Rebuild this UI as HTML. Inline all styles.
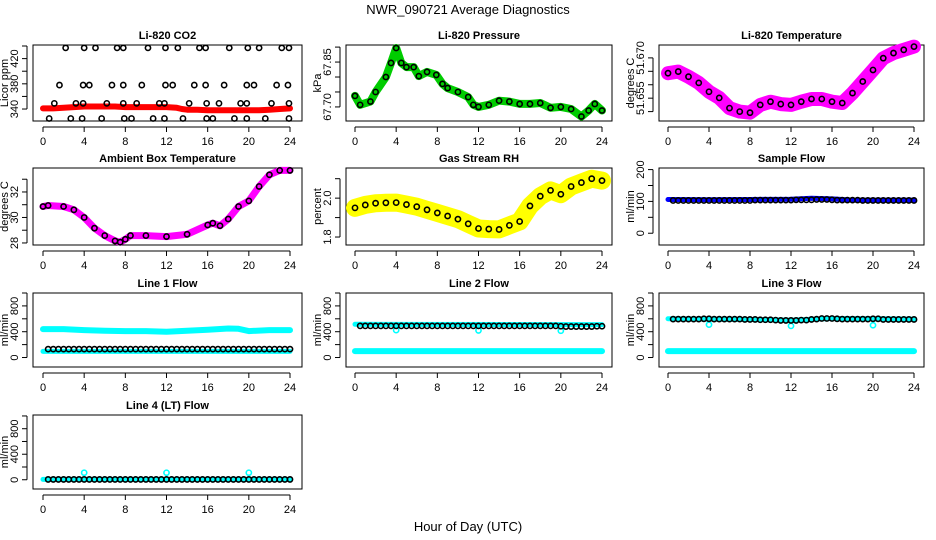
<!DOCTYPE html>
<html><head><meta charset="utf-8">
<style>
html,body{margin:0;padding:0;background:#fff;}
svg{display:block;font-family:"Liberation Sans",sans-serif;}
</style></head>
<body>
<svg id="chart" width="936" height="540" viewBox="0 0 936 540" xmlns="http://www.w3.org/2000/svg">
<text x="468" y="14" text-anchor="middle" font-size="13">NWR_090721  Average Diagnostics</text>
<text x="468" y="531" text-anchor="middle" font-size="13">Hour of Day (UTC)</text>
</svg>
<script>
const NS="http://www.w3.org/2000/svg";
const svg=document.getElementById('chart');
const xTicks=[0,4,8,12,16,20,24];
const halfHours=[0.5,1,1.5,2,2.5,3,3.5,4,4.5,5,5.5,6,6.5,7,7.5,8,8.5,9,9.5,10,10.5,11,11.5,12,12.5,13,13.5,14,14.5,15,15.5,16,16.5,17,17.5,18,18.5,19,19.5,20,20.5,21,21.5,22,22.5,23,23.5,24];

// CO2
const co2BandH=[0,1,2,3,4,5,6,7,8,9,10,11,12,13,13.5,14,15,16,17,18,19,20,21,22,23,24];
const co2BandV=[341,341,342,343,344,344,344,344,343,343,343,343,343,342,340,339,339,338,338,338,338,338,338,339,340,341];
const co2PtsH=[2.2,4.0,5.1,7.2,7.8,10.2,11.9,13.1,15.2,15.8,18.1,19.9,21.0,23.2,23.9,
1.6,3.9,4.5,6.7,7.8,9.6,11.9,12.6,14.7,15.8,17.6,19.8,20.5,22.7,23.8,
1.1,3.2,3.9,6.2,7.8,9.1,11.3,11.8,14.2,15.9,17.1,19.2,19.8,22.2,23.9,
0.6,2.7,3.8,5.7,7.9,8.6,10.7,11.8,13.6,15.9,16.5,18.6,19.8,21.6,23.9];
const co2PtsV=[437,437,437,437,437,437,437,437,437,437,437,437,437,437,437,
378,378,378,378,378,378,378,378,378,378,378,378,378,378,378,
349,349,349,349,349,349,349,349,349,349,349,349,349,349,349,
325,325,325,325,325,325,325,325,325,325,325,325,325,325,325];
// Pressure
const presH=[0,0.5,1.5,2,3,3.5,4,4.5,5,5.7,6.2,7,7.9,8.5,9,10,11,11.5,12,13,14,15,16,17,18,19,20,21,22,22.7,23.3,24];
const presV=[67.737,67.707,67.718,67.75,67.80,67.847,67.897,67.847,67.833,67.833,67.803,67.817,67.807,67.777,67.763,67.75,67.733,67.707,67.70,67.707,67.721,67.718,67.71,67.71,67.713,67.697,67.70,67.693,67.668,67.688,67.71,67.688];
// Li-820 temperature
const tempH=[0,1,2,3,4,5,6,7,8,9,10,11,12,13,14,15,16,17,18,19,20,21,22,23,24];
const tempV=[51.6643,51.6649,51.6630,51.6607,51.6574,51.6551,51.6513,51.6500,51.6496,51.6525,51.6537,51.6528,51.6525,51.6537,51.6547,51.6547,51.6537,51.6532,51.6569,51.6612,51.6655,51.6699,51.6718,51.6730,51.6742];
// Ambient
const ambH=[0,0.5,2,3,4,5,6,7,7.5,8,8.5,10,12,14,16,16.5,17.2,18,19,20,21,22,23,24];
const ambV=[30.86,30.94,30.86,30.6,30.0,29.16,28.58,28.16,28.06,28.29,28.58,28.58,28.5,28.68,29.41,29.55,29.35,29.88,30.86,31.3,32.43,33.35,33.69,33.69];
// Gas RH
const rhH=[0,1,2,3,4,5,6,7,8,9,10,11,12,13,14,15,16,17,18,19,20,21,22,23,24];
const rhV=[1.95,1.965,1.974,1.976,1.977,1.967,1.956,1.94,1.924,1.908,1.892,1.868,1.844,1.841,1.839,1.86,1.88,1.96,2.01,2.04,2.02,2.06,2.08,2.10,2.09];
// Sample flow
const sampBandH=[0,4,8,12,14,16,18,20,24];
const sampBandV=[106,105,106,107,110,108,104,104,104];
const sampPtsV=[103,103,103,103,103,103,103,103,103,103,103,103,103,103,103,103,104,104,104,104,104,104,104,104,105,105,105,105,106,106,106,105,104,104,104,104,104,103,103,103,103,103,103,103,103,103,103,103];
// Line 1
const l1UpH=[0,2,4,6,8,10,12,14,16,18,19,20,22,24];
const l1UpV=[440,440,425,415,410,410,400,415,430,450,445,410,425,425];
const l1LowH=[0,24];
const l1LowV=[95,95];
const l1PtsV=[130,130,130,130,130,130,130,130,130,130,130,130,130,130,130,130,130,130,130,130,130,130,130,130,130,130,130,130,130,130,130,130,130,130,130,130,130,130,130,130,130,130,130,130,130,130,130,130];
// Line 2
const l2UpH=[0,24];
const l2UpV=[515,510];
const l2LowH=[0,24];
const l2LowV=[100,100];
const l2DipH=[4,12,20];
const l2DipV=[425,420,415];
const l2PtsV=[490,490,490,490,490,490,490,490,490,490,490,490,490,490,490,490,490,490,490,490,490,490,490,490,490,490,490,490,490,490,490,490,490,490,490,490,490,490,490,485,480,480,480,480,480,480,485,485];
// Line 3
const l3UpH=[0,8,12,16,20,24];
const l3UpV=[600,590,580,605,600,595];
const l3LowH=[0,24];
const l3LowV=[100,100];
const l3DipH=[4,12,20];
const l3DipV=[510,490,500];
const l3PtsV=[595,595,595,595,595,595,600,600,595,595,595,595,595,595,590,590,590,585,585,585,580,575,575,575,575,580,580,590,595,605,605,605,600,595,595,595,595,595,595,600,600,590,590,590,590,590,590,590];
// Line 4
const l4BandH=[0,24];
const l4BandV=[5,5];
const l4DipH=[4,12,20];
const l4DipV=[110,110,110];
const l4PtsV=[5,5,5,5,5,5,5,5,5,5,5,5,5,5,5,5,5,5,5,5,5,5,5,5,5,5,5,5,5,5,5,5,5,5,5,5,5,5,5,5,5,5,5,5,5,5,5,5];

function mk(tag,attrs,parent){const e=document.createElementNS(NS,tag);for(const k in attrs)e.setAttribute(k,attrs[k]);(parent||svg).appendChild(e);return e;}

function panel(p){
  const g=mk('g',{});
  
  
  const xs=h=>p.x0+(h)*(p.x24-p.x0)/24;
  const ys=v=>p.bottom-(v-p.ymin)/(p.ymax-p.ymin)*(p.bottom-p.top);
  const box=mk('rect',{x:p.left,y:p.top,width:p.right-p.left,height:p.bottom-p.top,fill:'none',stroke:'#000','stroke-width':1},g);
  
  
  const t=mk('text',{x:(p.left+p.right)/2,y:p.top-6,'text-anchor':'middle','font-size':11,'font-weight':'bold'},g);
  t.textContent=p.title;
  
  
  // x axis
  mk('line',{x1:xs(0),x2:xs(24),y1:p.bottom+6,y2:p.bottom+6,stroke:'#000'},g);
  xTicks.forEach(h=>{
    mk('line',{x1:xs(h),x2:xs(h),y1:p.bottom+6,y2:p.bottom+11,stroke:'#000'},g);
    const tl=mk('text',{x:xs(h),y:p.bottom+24,'text-anchor':'middle','font-size':11},g);
    tl.textContent=h;
    
    
  });
  // y axis
  const ax=p.left-6;
  mk('line',{x1:ax,x2:ax,y1:ys(p.ticks[0]),y2:ys(p.ticks[p.ticks.length-1]),stroke:'#000'},g);
  p.ticks.forEach(v=>mk('line',{x1:ax-5,x2:ax,y1:ys(v),y2:ys(v),stroke:'#000'},g));
  p.labels.forEach((v,i)=>{
    const yy=ys(v);
    const tl=mk('text',{x:0,y:0,'text-anchor':'middle','font-size':11,transform:`translate(${p.left-15},${yy}) rotate(-90)`},g);
    tl.textContent=p.labelText?p.labelText[i]:v;
    
    
  });
  const yl=mk('text',{x:0,y:0,'text-anchor':'middle','font-size':11,transform:`translate(${p.left-25},${(p.top+p.bottom)/2}) rotate(-90)`},g);
  yl.textContent=p.ylab;
  
  
  const cg=mk('g',{},g);
  return {g:cg,xs,ys};
}
function band(P,H,V,color,w,name){
  const pts=H.map((h,i)=>P.xs(h).toFixed(1)+','+P.ys(V[i]).toFixed(1)).join(' ');
  const l=mk('polyline',{points:pts,fill:'none',stroke:color,'stroke-width':w,'stroke-linejoin':'round','stroke-linecap':'round'},P.g);
  
  
}
function dots(P,H,V,color,name,r,sw){
  H.forEach((h,i)=>{
    const c=mk('circle',{cx:P.xs(h),cy:P.ys(V[i]),r:r||2.6,fill:'none',stroke:color,'stroke-width':sw||1.6},P.g);
    
    
  });
}
const C1={left:33,right:302,x0:43,x24:290};
const C2={left:346,right:612,x0:355,x24:602};
const C3={left:659,right:924,x0:668,x24:914};
const R1={top:45,bottom:121},R2={top:168,bottom:245},R3={top:293,bottom:367},R4={top:415,bottom:489};

let P=panel(Object.assign({name:'co2-panel',title:'Li-820 CO2',ylab:'Licor ppm',ymin:321,ymax:441.6,ticks:[340,360,380,400,420,440],labels:[340,380,420]},C1,R1));
band(P,co2BandH,co2BandV,'#ff0000',6,'co2-band');
dots(P,co2PtsH,co2PtsV,'#000','co2-point');

P=panel(Object.assign({name:'pressure-panel',title:'Li-820 Pressure',ylab:'kPa',ymin:67.653,ymax:67.907,ticks:[67.70,67.75,67.80,67.85,67.90],labels:[67.70,67.85],labelText:['67.70','67.85']},C2,R1));
band(P,presH,presV,'#00cc00',8,'pressure-band');
dots(P,presH,presV,'#000','pressure-point');

P=panel(Object.assign({name:'li820-temp-panel',title:'Li-820 Temperature',ylab:'degrees C',ymin:51.6465,ymax:51.6748,ticks:[51.650,51.655,51.660,51.665,51.670],labels:[51.670,51.655],labelText:['51.670','51.655']},C3,R1));
band(P,tempH,tempV,'#ff00ff',14,'temp-band');
dots(P,tempH,tempV,'#ff00ff','temp-scatter',3.2,1.6);
dots(P,tempH,tempV,'#000','temp-point');

P=panel(Object.assign({name:'ambient-panel',title:'Ambient Box Temperature',ylab:'degrees C',ymin:27.84,ymax:33.88,ticks:[28,29,30,31,32,33],labels:[28,30,32]},C1,R2));
band(P,ambH,ambV,'#ff00ff',7,'ambient-band');
dots(P,ambH,ambV,'#000','ambient-point');

P=panel(Object.assign({name:'rh-panel',title:'Gas Stream RH',ylab:'percent',ymin:1.759,ymax:2.155,ticks:[1.8,1.9,2.0,2.1],labels:[1.8,2.0],labelText:['1.8','2.0']},C2,R2));
band(P,rhH,rhV,'#ffff00',18,'rh-band');
dots(P,rhH,rhV,'#000','rh-point');

P=panel(Object.assign({name:'sample-flow-panel',title:'Sample Flow',ylab:'ml/min',ymin:-37,ymax:205,ticks:[0,50,100,150,200],labels:[0,100,200]},C3,R2));
band(P,sampBandH,sampBandV,'#0000ff',5,'sample-band');
dots(P,halfHours,sampPtsV,'#000','sample-point');

const flowT=[0,200,400,600,800,1000],flowL=[0,400,800];
P=panel(Object.assign({name:'line1-panel',title:'Line 1 Flow',ylab:'ml/min',ymin:-147,ymax:1000,ticks:flowT,labels:flowL},C1,R3));
band(P,l1UpH,l1UpV,'#00ffff',6,'line1-upper-band');
band(P,l1LowH,l1LowV,'#00ffff',5,'line1-lower-band');
dots(P,halfHours,l1PtsV,'#000','line1-point');

P=panel(Object.assign({name:'line2-panel',title:'Line 2 Flow',ylab:'ml/min',ymin:-147,ymax:1000,ticks:flowT,labels:flowL},C2,R3));
band(P,l2UpH,l2UpV,'#00ffff',5,'line2-upper-band');
band(P,l2LowH,l2LowV,'#00ffff',6,'line2-lower-band');
dots(P,l2DipH,l2DipV,'#00ffff','line2-dip');
dots(P,halfHours,l2PtsV,'#000','line2-point');

P=panel(Object.assign({name:'line3-panel',title:'Line 3 Flow',ylab:'ml/min',ymin:-147,ymax:1000,ticks:flowT,labels:flowL},C3,R3));
band(P,l3UpH,l3UpV,'#00ffff',5,'line3-upper-band');
band(P,l3LowH,l3LowV,'#00ffff',6,'line3-lower-band');
dots(P,l3DipH,l3DipV,'#00ffff','line3-dip');
dots(P,halfHours,l3PtsV,'#000','line3-point');

P=panel(Object.assign({name:'line4-panel',title:'Line 4 (LT) Flow',ylab:'ml/min',ymin:-145,ymax:1015,ticks:flowT,labels:flowL},C1,R4));
band(P,l4BandH,l4BandV,'#00ffff',5,'line4-band');
dots(P,l4DipH,l4DipV,'#00ffff','line4-dip');
dots(P,halfHours,l4PtsV,'#000','line4-point');
</script>
</body></html>
